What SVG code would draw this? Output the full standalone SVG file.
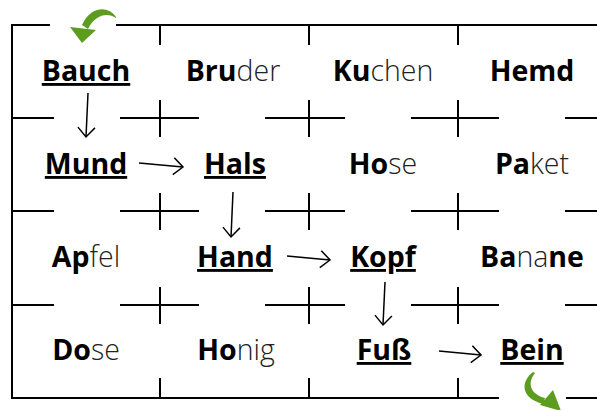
<svg xmlns="http://www.w3.org/2000/svg" width="597" height="410" viewBox="0 0 597 410">
<defs>
<style>
.grid line{stroke:#000;stroke-width:2;fill:none}
.w{font-family:"Open Sans","Liberation Sans",sans-serif;font-size:28.5px;text-anchor:middle;fill:#000}
.b{font-weight:700}
.l{font-weight:300;fill:#222}
.u{text-decoration:underline;text-decoration-thickness:2px;text-underline-offset:3px}
.con{stroke:#000;stroke-width:1.5;fill:none;marker-end:url(#ah)}
.green{fill:#5c9d1f}
</style>
<marker id="ah" markerUnits="userSpaceOnUse" markerWidth="24" markerHeight="24" refX="12" refY="12" orient="auto" viewBox="0 0 24 24">
<path d="M2.5,3.5 L12,12 L2.5,20.5" fill="none" stroke="#000" stroke-width="1.5"/>
</marker>
</defs>
<rect width="597" height="410" fill="#fff"/>
<g id="grid" class="grid">
<line x1="12" y1="25" x2="12" y2="399"/>
<line x1="11" y1="25" x2="50" y2="25"/>
<line x1="116" y1="25" x2="597" y2="25"/>
<line x1="11" y1="398" x2="499" y2="398"/>
<line x1="566" y1="398" x2="597" y2="398"/>
<line x1="160" y1="25" x2="160" y2="45"/>
<line x1="309" y1="25" x2="309" y2="45"/>
<line x1="458" y1="25" x2="458" y2="45"/>
<line x1="160" y1="378" x2="160" y2="398"/>
<line x1="309" y1="378" x2="309" y2="398"/>
<line x1="458" y1="378" x2="458" y2="398"/>
<line x1="12" y1="118" x2="54" y2="118"/><line x1="120" y1="118" x2="199" y2="118"/><line x1="265" y1="118" x2="345" y2="118"/><line x1="411" y1="118" x2="499" y2="118"/><line x1="565" y1="118" x2="597" y2="118"/>
<line x1="12" y1="211" x2="54" y2="211"/><line x1="120" y1="211" x2="199" y2="211"/><line x1="265" y1="211" x2="345" y2="211"/><line x1="411" y1="211" x2="499" y2="211"/><line x1="565" y1="211" x2="597" y2="211"/>
<line x1="12" y1="305" x2="54" y2="305"/><line x1="120" y1="305" x2="199" y2="305"/><line x1="265" y1="305" x2="345" y2="305"/><line x1="411" y1="305" x2="499" y2="305"/><line x1="565" y1="305" x2="597" y2="305"/>
<line x1="160" y1="100" x2="160" y2="137"/><line x1="309" y1="100" x2="309" y2="137"/><line x1="458" y1="100" x2="458" y2="137"/>
<line x1="160" y1="193" x2="160" y2="230"/><line x1="309" y1="193" x2="309" y2="230"/><line x1="458" y1="193" x2="458" y2="230"/>
<line x1="160" y1="287" x2="160" y2="324"/><line x1="309" y1="287" x2="309" y2="324"/><line x1="458" y1="287" x2="458" y2="324"/>
</g>
<g id="start-arrow" class="green">
<path d="M116,17 C109,6 91,5 82,25 L88,29 C95,15 107,12 116,18 Z"/>
<path d="M70,27 L96,30 L82,43 Z"/>
</g>
<g id="end-arrow" class="green">
<path d="M533,372 C520,382 521,398 543,404 L545,398 C530,394 527,383 535,373 Z"/>
<path d="M553,390 L540,405 L561,411 Z"/>
</g>
<g id="n-bauch"><text class="w b u" x="86" y="81">Bauch</text></g>
<g id="n-bruder"><text class="w" x="233" y="81"><tspan class="b">Bru</tspan><tspan class="l">der</tspan></text></g>
<g id="n-kuchen"><text class="w" x="383" y="81"><tspan class="b">Ku</tspan><tspan class="l">chen</tspan></text></g>
<g id="n-hemd"><text class="w b" x="532" y="81">Hemd</text></g>
<g id="n-mund"><text class="w b u" x="86" y="174">Mund</text></g>
<g id="n-hals"><text class="w b u" x="235" y="174">Hals</text></g>
<g id="n-hose"><text class="w" x="383" y="174"><tspan class="b">Ho</tspan><tspan class="l">se</tspan></text></g>
<g id="n-paket"><text class="w" x="532" y="174"><tspan class="b">Pa</tspan><tspan class="l">ket</tspan></text></g>
<g id="n-apfel"><text class="w" x="86" y="267"><tspan class="b">Ap</tspan><tspan class="l">fel</tspan></text></g>
<g id="n-hand"><text class="w b u" x="235" y="267">Hand</text></g>
<g id="n-kopf"><text class="w b u" x="383" y="267">Kopf</text></g>
<g id="n-banane"><text class="w" x="532" y="267"><tspan class="b">Ba</tspan><tspan class="l">na</tspan><tspan class="b">ne</tspan></text></g>
<g id="n-dose"><text class="w" x="86" y="360"><tspan class="b">Do</tspan><tspan class="l">se</tspan></text></g>
<g id="n-honig"><text class="w" x="236" y="360"><tspan class="b">Ho</tspan><tspan class="l">nig</tspan></text></g>
<g id="n-fuss"><text class="w b u" x="384" y="360">Fuß</text></g>
<g id="n-bein"><text class="w b u" x="532" y="360">Bein</text></g>
<g id="connectors">
<path class="con" d="M88,93 L86,137"/>
<path class="con" d="M139,163 L183,167"/>
<path class="con" d="M233,192 L231,237"/>
<path class="con" d="M287,256 L330,260"/>
<path class="con" d="M385,282 L383,325"/>
<path class="con" d="M439,351 L481,355"/>
</g>
</svg>
